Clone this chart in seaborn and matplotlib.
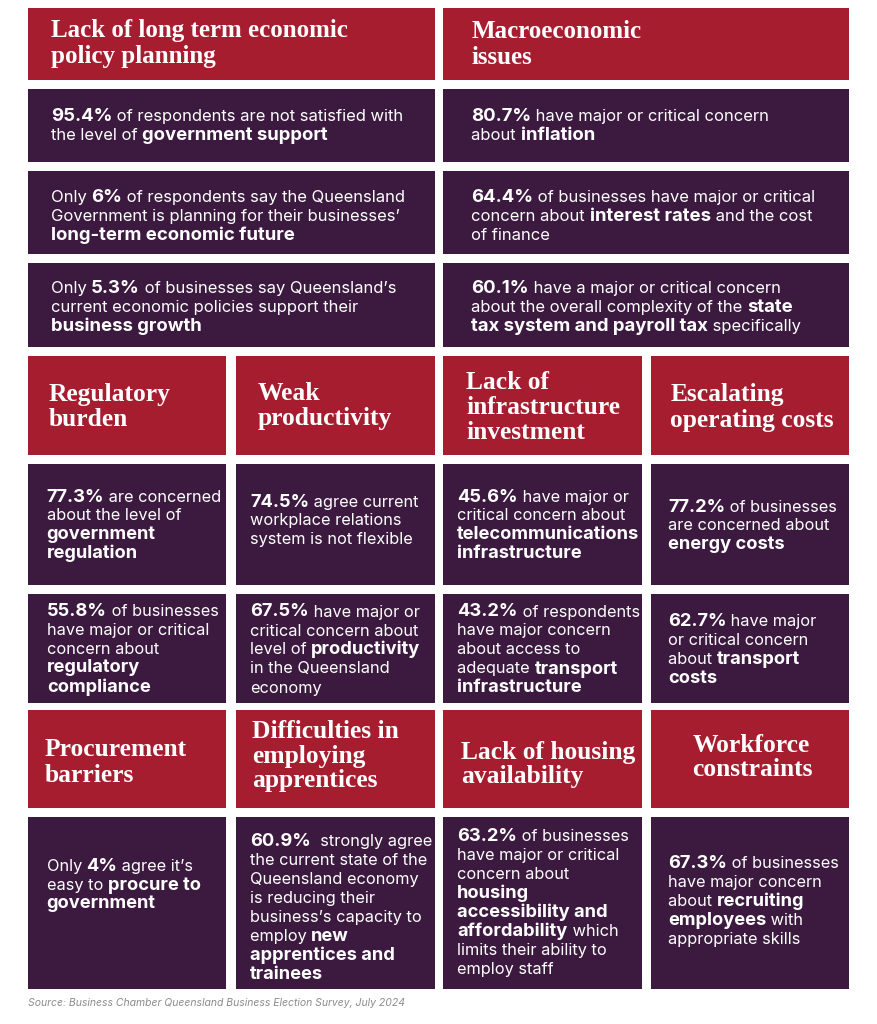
import matplotlib
matplotlib.use("Agg")
import matplotlib.pyplot as plt
from matplotlib.patches import Rectangle
from matplotlib.font_manager import FontProperties
import seaborn as sns

sns.set_theme(style="white")
BODY_FONT = ["Inter", "Open Sans", "DejaVu Sans"]
HEAD_FONT = ["Liberation Serif", "DejaVu Serif"]
plt.rcParams["font.family"] = BODY_FONT

RED = "#A51D2E"
PURPLE = "#3C1A40"

# ---------------- data ----------------
titles = [
    ["Lack of long term economic", "policy planning"],
    ["Macroeconomic", "issues"],
    ["Regulatory", "burden"],
    ["Weak", "productivity"],
    ["Lack of", "infrastructure", "investment"],
    ["Escalating", "operating costs"],
    ["Procurement", "barriers"],
    ["Difficulties in", "employing", "apprentices"],
    ["Lack of housing", "availability"],
    ["Workforce", "constraints"],
]

stats = [
    ["**95.4%** of respondents are not satisfied with", "the level of **government support**"],
    ["Only **6%** of respondents say the Queensland", "Government is planning for their businesses\u2019", "**long-term economic future**"],
    ["Only **5.3%** of businesses say Queensland\u2019s", "current economic policies support their", "**business growth**"],
    ["**80.7%** have major or critical concern", "about **inflation**"],
    ["**64.4%** of businesses have major or critical", "concern about **interest rates** and the cost", "of finance"],
    ["**60.1%** have a major or critical concern", "about the overall complexity of the **state**", "**tax system and payroll tax** specifically"],
    ["**77.3%** are concerned", "about the level of", "**government**", "**regulation**"],
    ["**74.5%** agree current", "workplace relations", "system is not flexible"],
    ["**45.6%** have major or", "critical concern about", "**telecommunications**", "**infrastructure**"],
    ["**77.2%** of businesses", "are concerned about", "**energy costs**"],
    ["**55.8%** of businesses", "have major or critical", "concern about", "**regulatory**", "**compliance**"],
    ["**67.5%** have major or", "critical concern about", "level of **productivity**", "in the Queensland", "economy"],
    ["**43.2%** of respondents", "have major concern", "about access to", "adequate **transport**", "**infrastructure**"],
    ["**62.7%** have major", "or critical concern", "about **transport**", "**costs**"],
    ["Only **4%** agree it\u2019s", "easy to **procure to**", "**government**"],
    ["**60.9%**  strongly agree", "the current state of the", "Queensland economy", "is reducing their", "business\u2019s capacity to", "employ **new**", "**apprentices and**", "**trainees**"],
    ["**63.2%** of businesses", "have major or critical", "concern about", "**housing**", "**accessibility and**", "**affordability** which", "limits their ability to", "employ staff"],
    ["**67.3%** of businesses", "have major concern", "about **recruiting**", "**employees** with", "appropriate skills"],
]

source_note = "Source: Business Chamber Queensland Business Election Survey, July 2024"

# ---------------- layout (pixels) ----------------
L, LM, RM, R = 28, 435, 443, 849
Q = [(28, 226), (236, 435), (443, 642), (651, 849)]

# title boxes: x0, x1, y0, y1, text_x, first_baseline, spacing, size_key
title_layout = [
    (L, LM, 8, 80, 50.7, 37.5, 26, "big"),
    (RM, R, 8, 80, 471.3, 37.5, 26, "big"),
    (Q[0][0], Q[0][1], 356, 455, 49, 401.5, 25, "small"),
    (Q[1][0], Q[1][1], 356, 455, 257.7, 399.5, 25, "small"),
    (Q[2][0], Q[2][1], 356, 455, 466.3, 389, 25, "small"),
    (Q[3][0], Q[3][1], 356, 455, 670.3, 401.5, 25, "small"),
    (Q[0][0], Q[0][1], 710, 808, 44.3, 756.5, 25, "small"),
    (Q[1][0], Q[1][1], 710, 808, 251.7, 737.5, 25, "small"),
    (Q[2][0], Q[2][1], 710, 808, 460.7, 759, 24.5, "small"),
    (Q[3][0], Q[3][1], 710, 808, 692.5, 751.5, 25, "small"),
]

stat_layout = [
    (L, LM, 89, 162, 50.7, 121.3, 18.2, "wide"),
    (L, LM, 171, 254, 50.7, 202.3, 18.8, "wide"),
    (L, LM, 263, 347, 50.7, 293.3, 18.8, "wide"),
    (RM, R, 89, 162, 471.3, 121.3, 18.2, "wide"),
    (RM, R, 171, 254, 471.3, 202.3, 18.8, "wide"),
    (RM, R, 263, 347, 471.3, 293.3, 18.8, "wide"),
    (Q[0][0], Q[0][1], 464, 585, 46.7, 501.7, 18.7, "narrow"),
    (Q[1][0], Q[1][1], 464, 585, 250, 506.7, 18.7, "narrow"),
    (Q[2][0], Q[2][1], 464, 585, 457.3, 501.7, 18.7, "narrow"),
    (Q[3][0], Q[3][1], 464, 585, 668, 511.7, 18.7, "narrow"),
    (Q[0][0], Q[0][1], 594, 703, 47, 615.5, 19, "narrow"),
    (Q[1][0], Q[1][1], 594, 703, 250, 616.5, 19, "narrow"),
    (Q[2][0], Q[2][1], 594, 703, 457.3, 616.5, 19, "narrow"),
    (Q[3][0], Q[3][1], 594, 703, 668, 626, 19, "narrow"),
    (Q[0][0], Q[0][1], 817, 989, 46.7, 871, 18.7, "narrow"),
    (Q[1][0], Q[1][1], 817, 989, 250, 846, 19.05, "narrow"),
    (Q[2][0], Q[2][1], 817, 989, 457.3, 841, 19.05, "narrow"),
    (Q[3][0], Q[3][1], 817, 989, 668, 868, 19.05, "narrow"),
]

W, H = 877, 1024
fig = plt.figure(figsize=(W / 100, H / 100), dpi=100)
fig.patch.set_facecolor("white")
ax = fig.add_axes([0, 0, 1, 1])
ax.set_xlim(0, W)
ax.set_ylim(H, 0)
ax.axis("off")
renderer = fig.canvas.get_renderer()


def text_width(s, size, family, weight="normal", style="normal"):
    fp = FontProperties(family=family, size=size, weight=weight, style=style)
    w1, _, _ = renderer.get_text_width_height_descent("|" + s + "|", fp, ismath=False)
    w0, _, _ = renderer.get_text_width_height_descent("||", fp, ismath=False)
    return w1 - w0


def fit_size(s, target, family, weight="normal", style="normal"):
    return 10.0 * target / text_width(s, 10.0, family, weight, style)


sizes_head = {
    "big": 1.07 * fit_size("Lack of long term economic", 278, HEAD_FONT, "bold"),
    "small": 1.08 * fit_size("operating costs", 151.7, HEAD_FONT, "bold"),
}
sizes_body = {
    "wide": fit_size("of respondents are not satisfied with", 288, BODY_FONT),
    "narrow": fit_size("system is not flexible", 163.3, BODY_FONT),
}
BOLD = 700
# bold words in the reference are set noticeably wider than the regular text
bold_scale = min(1.12, fit_size("government support", 197.7, BODY_FONT, BOLD) / sizes_body["wide"])


def draw_rich(x, y, line, size, clip):
    parts = line.split("**")
    cur = x
    for i, part in enumerate(parts):
        if not part:
            continue
        bold = i % 2 == 1
        weight = BOLD if bold else "normal"
        sz = size * bold_scale if bold else size
        t = ax.text(cur, y, part, fontsize=sz, fontweight=weight, color="white",
                    family=BODY_FONT, ha="left", va="baseline")
        t.set_clip_path(clip)
        cur += text_width(part, sz, BODY_FONT, weight)


for lines, (x0, x1, y0, y1, tx, by, sp, key) in zip(titles, title_layout):
    rect = Rectangle((x0, y0), x1 - x0, y1 - y0, facecolor=RED, edgecolor="none")
    ax.add_patch(rect)
    for k, ln in enumerate(lines):
        t = ax.text(tx, by + k * sp, ln, fontsize=sizes_head[key], fontweight="bold",
                    family=HEAD_FONT, color="white", ha="left", va="baseline")
        t.set_clip_path(rect)

for lines, (x0, x1, y0, y1, tx, by, sp, key) in zip(stats, stat_layout):
    rect = Rectangle((x0, y0), x1 - x0, y1 - y0, facecolor=PURPLE, edgecolor="none")
    ax.add_patch(rect)
    for k, ln in enumerate(lines):
        draw_rich(tx, by + k * sp, ln, sizes_body[key], rect)

src_size = fit_size(source_note, 379, BODY_FONT, "normal", "italic")
ax.text(28, 1006.5, source_note, fontsize=src_size, style="italic", color="#8C8C8C",
        family=BODY_FONT, ha="left", va="baseline")

fig.savefig("out.png", dpi=100, facecolor="white")
